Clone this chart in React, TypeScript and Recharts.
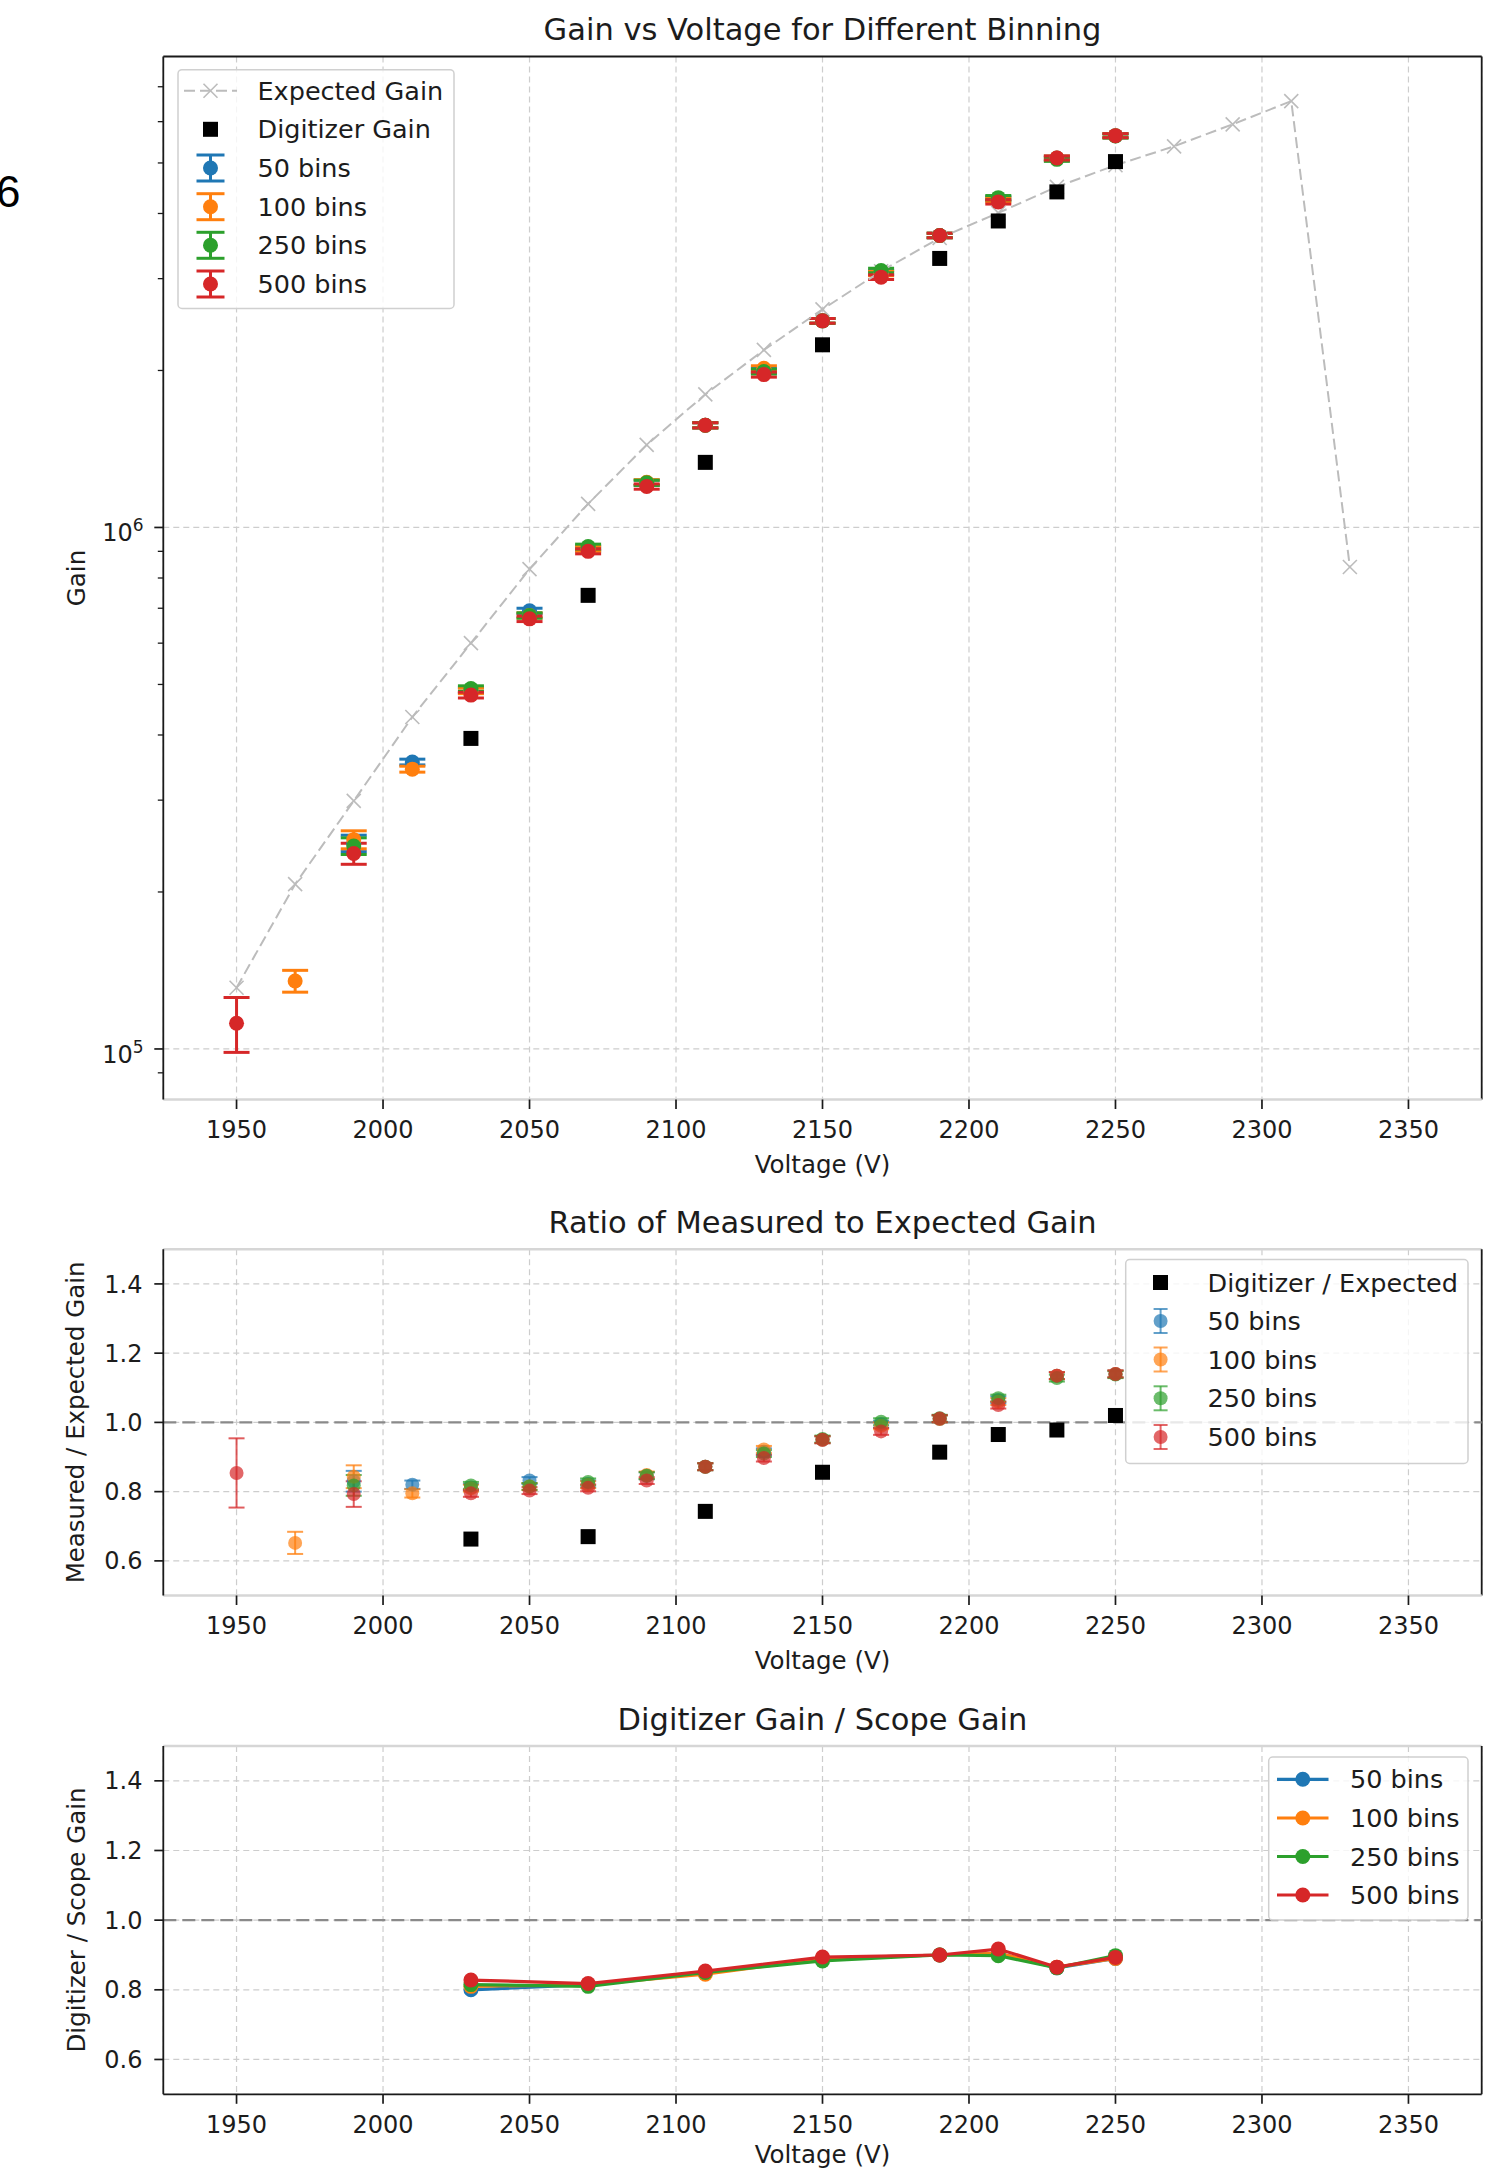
import React from 'react';
import { ComposedChart, Scatter, XAxis, YAxis, CartesianGrid, ReferenceLine, ErrorBar } from 'recharts';

// ---------------- data ----------------
const X_TICKS = [1950, 2000, 2050, 2100, 2150, 2200, 2250, 2300, 2350];
const X_DOMAIN: [number, number] = [1925, 2375];

const EXPECTED_VOLTS = [1950, 1970, 1990, 2010, 2030, 2050, 2070, 2090, 2110, 2130, 2150, 2170, 2190, 2210, 2230, 2250, 2270, 2290, 2310, 2330];
const EXPECTED_GAIN = [1.31e5, 2.07e5, 2.99e5, 4.33e5, 6.0e5, 8.32e5, 1.11e6, 1.44e6, 1.8e6, 2.19e6, 2.62e6, 3.1e6, 3.59e6, 4.01e6, 4.5e6, 4.95e6, 5.38e6, 5.93e6, 6.57e6, 8.4e5];

const DIGI_VOLTS = [2030, 2070, 2110, 2150, 2190, 2210, 2230, 2250];
const DIGI_GAIN = [3.94e5, 7.41e5, 1.333e6, 2.24e6, 3.28e6, 3.87e6, 4.4e6, 5.03e6];
const DIGI_RATIO = [0.663, 0.67, 0.743, 0.856, 0.914, 0.965, 0.978, 1.02];

const B50_VOLTS = [1990, 2010, 2030, 2050, 2070, 2090, 2110, 2130, 2150, 2170, 2190, 2210, 2230, 2250];
const B50_GAIN = [2.48e5, 3.55e5, 4.87e5, 6.92e5, 9.12e5, 1.218e6, 1.57e6, 2.0e6, 2.49e6, 3.08e6, 3.63e6, 4.27e6, 5.11e6, 5.64e6];
const B50_GAIN_ERR = [9e3, 4.5e3, 6e3, 8e3, 1.0e4, 1.4e4, 1.8e4, 2.2e4, 2.6e4, 3.1e4, 3.6e4, 4.0e4, 4.5e4, 5.0e4];
const B50_RATIO = [0.83, 0.82, 0.812, 0.832, 0.822, 0.846, 0.872, 0.915, 0.95, 0.995, 1.01, 1.065, 1.135, 1.14];
const B50_RATIO_ERR = [0.03, 0.012, 0.01, 0.01, 0.01, 0.01, 0.01, 0.01, 0.01, 0.01, 0.01, 0.01, 0.01, 0.01];

const B100_VOLTS = [1970, 1990, 2010, 2030, 2050, 2070, 2090, 2110, 2130, 2150, 2170, 2190, 2210, 2230, 2250];
const B100_GAIN = [1.35e5, 2.52e5, 3.44e5, 4.86e5, 6.78e5, 9.1e5, 1.221e6, 1.57e6, 2.02e6, 2.49e6, 3.07e6, 3.63e6, 4.25e6, 5.11e6, 5.64e6];
const B100_GAIN_ERR = [6.5e3, 1.0e4, 4.5e3, 6e3, 8e3, 1.0e4, 1.4e4, 1.8e4, 2.2e4, 2.6e4, 3.1e4, 3.6e4, 4.0e4, 4.5e4, 5.0e4];
const B100_RATIO = [0.652, 0.843, 0.795, 0.81, 0.815, 0.82, 0.848, 0.872, 0.922, 0.95, 0.99, 1.01, 1.06, 1.135, 1.14];
const B100_RATIO_ERR = [0.032, 0.033, 0.012, 0.01, 0.01, 0.01, 0.01, 0.01, 0.01, 0.01, 0.01, 0.01, 0.01, 0.01, 0.01];

const B250_VOLTS = [1990, 2030, 2050, 2070, 2090, 2110, 2130, 2150, 2170, 2190, 2210, 2230, 2250];
const B250_GAIN = [2.45e5, 4.91e5, 6.78e5, 9.19e5, 1.218e6, 1.57e6, 1.99e6, 2.49e6, 3.11e6, 3.63e6, 4.29e6, 5.08e6, 5.63e6];
const B250_GAIN_ERR = [9e3, 6e3, 8e3, 1.0e4, 1.4e4, 1.8e4, 2.2e4, 2.6e4, 3.1e4, 3.6e4, 4.0e4, 4.5e4, 5.0e4];
const B250_RATIO = [0.818, 0.818, 0.815, 0.828, 0.846, 0.872, 0.91, 0.952, 1.002, 1.012, 1.07, 1.128, 1.138];
const B250_RATIO_ERR = [0.03, 0.01, 0.01, 0.01, 0.01, 0.01, 0.01, 0.01, 0.01, 0.01, 0.01, 0.01, 0.01];

const B500_VOLTS = [1950, 1990, 2030, 2050, 2070, 2090, 2110, 2130, 2150, 2170, 2190, 2210, 2230, 2250];
const B500_GAIN = [1.12e5, 2.37e5, 4.77e5, 6.68e5, 9.0e5, 1.198e6, 1.57e6, 1.964e6, 2.49e6, 3.02e6, 3.63e6, 4.21e6, 5.11e6, 5.64e6];
const B500_GAIN_ERR = [1.35e4, 1.1e4, 6e3, 8e3, 1.0e4, 1.4e4, 1.8e4, 2.2e4, 2.6e4, 3.1e4, 3.6e4, 4.0e4, 4.5e4, 5.0e4];
const B500_RATIO = [0.854, 0.793, 0.795, 0.803, 0.811, 0.832, 0.872, 0.897, 0.95, 0.974, 1.011, 1.05, 1.135, 1.14];
const B500_RATIO_ERR = [0.1, 0.037, 0.01, 0.01, 0.01, 0.01, 0.01, 0.01, 0.01, 0.01, 0.01, 0.01, 0.01, 0.01];

const SCOPE_50 = [0.8, 0.815, 0.848, 0.89, 0.9, 0.905, 0.863, 0.89];
const SCOPE_100 = [0.81, 0.815, 0.845, 0.89, 0.9, 0.905, 0.865, 0.89];
const SCOPE_250 = [0.815, 0.81, 0.85, 0.883, 0.9, 0.898, 0.863, 0.898];
const SCOPE_500 = [0.828, 0.818, 0.854, 0.894, 0.9, 0.917, 0.865, 0.893];

const LOG_MAJOR = [1e5, 1e6];
const LOG_TICKS = [9e4, 1e5, 2e5, 3e5, 4e5, 5e5, 6e5, 7e5, 8e5, 9e5, 1e6, 2e6, 3e6, 4e6, 5e6, 6e6, 7e6];
const LOG_DOMAIN: [number, number] = [8e4, 8e6];
const RATIO_TICKS = [0.6, 0.8, 1.0, 1.2, 1.4];
const RATIO_DOMAIN: [number, number] = [0.5, 1.5];

const TITLES = ['Gain vs Voltage for Different Binning', 'Ratio of Measured to Expected Gain', 'Digitizer Gain / Scope Gain'];
const Y_LABELS = ['Gain', 'Measured / Expected Gain', 'Digitizer / Scope Gain'];
const X_LABEL = 'Voltage (V)';
const BIN_NAMES = ['50 bins', '100 bins', '250 bins', '500 bins'];

// ---------------- style ----------------
const W = 1487;
const H = 2169;
const PLOT_LEFT = 163.3;
const PLOT_RIGHT = 1481.7;
const FONT = '"DejaVu Sans", Verdana, sans-serif';
const TXT = '#1c1c1c';
const SPINE = '#1a1a1a';
const SPINE_LIGHT = '#d6d6d6';
const GRID = '#cdcdcd';
const COLORS = ['#1f77b4', '#ff7f0e', '#2ca02c', '#d62728'];
const EXP_COLOR = '#bcbcbc';

const zip = (vs: number[], ys: number[], es?: number[]) => vs.map((v, i) => ({ v, y: ys[i], e: es ? es[i] : 0 }));

const expectedData = zip(EXPECTED_VOLTS, EXPECTED_GAIN);
const digiGainData = zip(DIGI_VOLTS, DIGI_GAIN);
const digiRatioData = zip(DIGI_VOLTS, DIGI_RATIO);
const gainSeries = [
  zip(B50_VOLTS, B50_GAIN, B50_GAIN_ERR),
  zip(B100_VOLTS, B100_GAIN, B100_GAIN_ERR),
  zip(B250_VOLTS, B250_GAIN, B250_GAIN_ERR),
  zip(B500_VOLTS, B500_GAIN, B500_GAIN_ERR),
];
const ratioSeries = [
  zip(B50_VOLTS, B50_RATIO, B50_RATIO_ERR),
  zip(B100_VOLTS, B100_RATIO, B100_RATIO_ERR),
  zip(B250_VOLTS, B250_RATIO, B250_RATIO_ERR),
  zip(B500_VOLTS, B500_RATIO, B500_RATIO_ERR),
];
const scopeSeries = [SCOPE_50, SCOPE_100, SCOPE_250, SCOPE_500].map((s) => zip(DIGI_VOLTS, s));

// ---------------- ticks ----------------
const XTick = (p: any) => (
  <g>
    <line x1={p.x} x2={p.x} y1={p.y} y2={p.y + 9.5} stroke={SPINE} strokeWidth={1.7} />
    <text x={p.x} y={p.y + 38.5} textAnchor="middle" fontSize={24} fontFamily={FONT} fill={TXT}>
      {p.payload.value}
    </text>
  </g>
);

const RatioTick = (p: any) => (
  <g>
    <line x1={p.x - 9} x2={p.x} y1={p.y} y2={p.y} stroke={SPINE} strokeWidth={1.7} />
    <text x={p.x - 20.8} y={p.y + 8.6} textAnchor="end" fontSize={24} fontFamily={FONT} fill={TXT}>
      {Number(p.payload.value).toFixed(1)}
    </text>
  </g>
);

const LogTick = (p: any) => {
  const v = p.payload.value;
  const major = LOG_MAJOR.some((m) => Math.abs(m - v) / m < 1e-6);
  const exp = Math.round(Math.log10(v));
  return (
    <g>
      <line x1={p.x - (major ? 9 : 5.5)} x2={p.x} y1={p.y} y2={p.y} stroke={SPINE} strokeWidth={major ? 1.7 : 1.3} />
      {major && (
        <text x={p.x - 19.8} y={p.y + 14} textAnchor="end" fontSize={24} fontFamily={FONT} fill={TXT}>
          <tspan>10</tspan>
          <tspan fontSize={17} dy={-10}>{exp}</tspan>
        </text>
      )}
    </g>
  );
};

// ---------------- shapes ----------------
const circle = (color: string, r: number, op = 1) => (p: any) =>
  p.cx == null ? <g /> : <circle cx={p.cx} cy={p.cy} r={r} fill={color} fillOpacity={op} />;
const square = (side: number) => (p: any) =>
  p.cx == null ? <g /> : <rect x={p.cx - side / 2} y={p.cy - side / 2} width={side} height={side} fill="#000" />;
const xMark = (p: any) =>
  p.cx == null ? (
    <g />
  ) : (
    <g stroke={EXP_COLOR} strokeWidth={1.6}>
      <line x1={p.cx - 7} y1={p.cy - 7} x2={p.cx + 7} y2={p.cy + 7} />
      <line x1={p.cx - 7} y1={p.cy + 7} x2={p.cx + 7} y2={p.cy - 7} />
    </g>
  );

// ---------------- charts ----------------
const commonX = (spineColor: string, h: number) => (
  <XAxis
    dataKey="v"
    type="number"
    domain={X_DOMAIN}
    ticks={X_TICKS}
    interval={0}
    allowDataOverflow
    height={h}
    tickSize={0}
    tickMargin={0}
    tickLine={false}
    axisLine={{ stroke: spineColor, strokeWidth: spineColor === SPINE ? 1.8 : 2.5 }}
    tick={XTick}
  />
);

const ratioY = (
  <YAxis
    dataKey="y"
    type="number"
    domain={RATIO_DOMAIN}
    ticks={RATIO_TICKS}
    interval={0}
    allowDataOverflow
    width={PLOT_LEFT}
    tickSize={0}
    tickMargin={0}
    tickLine={false}
    axisLine={{ stroke: SPINE, strokeWidth: 1.8 }}
    tick={RatioTick}
  />
);

function GainChart() {
  // plot area: top 56.5, bottom 1099.5
  return (
    <ComposedChart width={W} height={1190} margin={{ top: 56.5, right: W - PLOT_RIGHT, bottom: 10.5, left: 0 }}>
      <CartesianGrid horizontal={false} stroke={GRID} strokeDasharray="6 4" strokeWidth={1.2} />
      {commonX(SPINE_LIGHT, 80)}
      <YAxis
        dataKey="y"
        type="number"
        scale="log"
        domain={LOG_DOMAIN}
        ticks={LOG_TICKS}
        interval={0}
        allowDataOverflow
        width={PLOT_LEFT}
        tickSize={0}
        tickMargin={0}
        tickLine={false}
        axisLine={{ stroke: SPINE, strokeWidth: 1.8 }}
        tick={LogTick}
      />
      {LOG_MAJOR.map((t) => (
        <ReferenceLine key={t} y={t} stroke={GRID} strokeDasharray="6 4" strokeWidth={1.2} />
      ))}
      <ReferenceLine y={LOG_DOMAIN[1]} stroke={SPINE} strokeWidth={1.8} />
      <ReferenceLine x={X_DOMAIN[1]} stroke={SPINE} strokeWidth={1.8} />
      <Scatter
        data={expectedData}
        dataKey="y"
        shape={xMark}
        line={{ stroke: EXP_COLOR, strokeWidth: 2, strokeDasharray: '11 5' }}
        lineType="joint"
        isAnimationActive={false}
      />
      <Scatter data={digiGainData} dataKey="y" shape={square(15)} isAnimationActive={false} />
      {gainSeries.map((d, i) => (
        <Scatter key={i} data={d} dataKey="y" shape={circle(COLORS[i], 7.5)} isAnimationActive={false}>
          <ErrorBar dataKey="e" direction="y" width={13} stroke={COLORS[i]} strokeWidth={3} isAnimationActive={false} />
        </Scatter>
      ))}
    </ComposedChart>
  );
}

function RatioChart() {
  // placed at top 1190; plot area: top 1249.3, bottom 1595.5
  return (
    <ComposedChart width={W} height={490} margin={{ top: 59.3, right: W - PLOT_RIGHT, bottom: 4.5, left: 0 }}>
      <CartesianGrid stroke={GRID} strokeDasharray="6 4" strokeWidth={1.2} />
      {commonX(SPINE_LIGHT, 80)}
      {ratioY}
      <ReferenceLine y={RATIO_DOMAIN[1]} stroke={SPINE_LIGHT} strokeWidth={2.5} />
      <ReferenceLine x={X_DOMAIN[1]} stroke={SPINE} strokeWidth={1.8} />
      <ReferenceLine y={1} stroke="#8a8a8a" strokeDasharray="13 6" strokeWidth={2.4} />
      <Scatter data={digiRatioData} dataKey="y" shape={square(15)} isAnimationActive={false} />
      {ratioSeries.map((d, i) => (
        <Scatter key={i} data={d} dataKey="y" shape={circle(COLORS[i], 7, 0.7)} isAnimationActive={false}>
          <ErrorBar dataKey="e" direction="y" width={8} stroke={COLORS[i]} strokeOpacity={0.75} strokeWidth={2} isAnimationActive={false} />
        </Scatter>
      ))}
    </ComposedChart>
  );
}

function ScopeChart() {
  // placed at top 1680; plot area: top 1746, bottom 2094.3
  return (
    <ComposedChart width={W} height={489} margin={{ top: 66, right: W - PLOT_RIGHT, bottom: 4.7, left: 0 }}>
      <CartesianGrid stroke={GRID} strokeDasharray="6 4" strokeWidth={1.2} />
      {commonX(SPINE, 70)}
      {ratioY}
      <ReferenceLine y={RATIO_DOMAIN[1]} stroke={SPINE_LIGHT} strokeWidth={2.5} />
      <ReferenceLine x={X_DOMAIN[1]} stroke={SPINE} strokeWidth={1.8} />
      <ReferenceLine y={1} stroke="#8a8a8a" strokeDasharray="13 6" strokeWidth={2.4} />
      {scopeSeries.map((d, i) => (
        <Scatter
          key={i}
          data={d}
          dataKey="y"
          shape={circle(COLORS[i], 7.5)}
          line={{ stroke: COLORS[i], strokeWidth: 3.2 }}
          lineType="joint"
          isAnimationActive={false}
        />
      ))}
    </ComposedChart>
  );
}

// ---------------- overlay (titles, labels, legends) ----------------
const PLOT_CX = (PLOT_LEFT + PLOT_RIGHT) / 2;

function ErrSymbol({ cx, cy, color, half, cap, sw, r, op = 1 }: any) {
  return (
    <g stroke={color} strokeWidth={sw} strokeOpacity={op}>
      <line x1={cx} x2={cx} y1={cy - half} y2={cy + half} />
      <line x1={cx - cap} x2={cx + cap} y1={cy - half} y2={cy - half} />
      <line x1={cx - cap} x2={cx + cap} y1={cy + half} y2={cy + half} />
      <circle cx={cx} cy={cy} r={r} fill={color} fillOpacity={op} stroke="none" />
    </g>
  );
}

function LegendText({ x, y, children }: any) {
  return (
    <text x={x} y={y + 9} fontSize={25.5} fontFamily={FONT} fill={TXT}>
      {children}
    </text>
  );
}

function Overlay() {
  const topRows = [90.7, 129.3, 168, 206.7, 245.3, 284];
  const midRows = [1282.5, 1321, 1359.5, 1398.3, 1437];
  const botRows = [1779.3, 1818, 1856.5, 1895];
  const titleY = [40, 1232.7, 1730];
  const yLabelCY = [578, 1422.4, 1920];
  const xLabelY = [1172.5, 1668.5, 2163];
  return (
    <svg width={W} height={H} style={{ position: 'absolute', left: 0, top: 0, pointerEvents: 'none' }}>
      <text x={-4} y={207} fontSize={44} fontFamily='"Liberation Sans", Arial, sans-serif' fill="#000">6</text>
      {TITLES.map((t, i) => (
        <text key={t} x={PLOT_CX} y={titleY[i]} textAnchor="middle" fontSize={30.5} fontFamily={FONT} fill={TXT}>
          {t}
        </text>
      ))}
      {Y_LABELS.map((t, i) => (
        <text
          key={t}
          x={84.5}
          y={yLabelCY[i]}
          textAnchor="middle"
          fontSize={24.5}
          fontFamily={FONT}
          fill={TXT}
          transform={`rotate(-90, 84.5, ${yLabelCY[i]})`}
        >
          {t}
        </text>
      ))}
      {xLabelY.map((y, i) => (
        <text key={i} x={PLOT_CX} y={y} textAnchor="middle" fontSize={24.5} fontFamily={FONT} fill={TXT}>
          {X_LABEL}
        </text>
      ))}

      {/* top legend */}
      <rect x={178} y={69.7} width={276} height={238.8} rx={4} fill="#fff" fillOpacity={0.8} stroke="#d0d0d0" strokeWidth={1.5} />
      <line x1={184} x2={237} y1={topRows[0]} y2={topRows[0]} stroke={EXP_COLOR} strokeWidth={2} strokeDasharray="11 5" />
      <g stroke={EXP_COLOR} strokeWidth={1.6}>
        <line x1={203.5} y1={topRows[0] - 7} x2={217.5} y2={topRows[0] + 7} />
        <line x1={203.5} y1={topRows[0] + 7} x2={217.5} y2={topRows[0] - 7} />
      </g>
      <LegendText x={257.5} y={topRows[0]}>Expected Gain</LegendText>
      <rect x={203} y={topRows[1] - 7.5} width={15} height={15} fill="#000" />
      <LegendText x={257.5} y={topRows[1]}>Digitizer Gain</LegendText>
      {BIN_NAMES.map((n, i) => (
        <g key={n}>
          <ErrSymbol cx={210.5} cy={topRows[i + 2]} color={COLORS[i]} half={13} cap={14} sw={3} r={7.5} />
          <LegendText x={257.5} y={topRows[i + 2]}>{n}</LegendText>
        </g>
      ))}

      {/* middle legend */}
      <rect x={1125.7} y={1259.5} width={342.3} height={204} rx={4} fill="#fff" fillOpacity={0.8} stroke="#d0d0d0" strokeWidth={1.5} />
      <rect x={1153} y={midRows[0] - 7.5} width={15} height={15} fill="#000" />
      <LegendText x={1207.6} y={midRows[0]}>Digitizer / Expected</LegendText>
      {BIN_NAMES.map((n, i) => (
        <g key={n}>
          <ErrSymbol cx={1160.6} cy={midRows[i + 1]} color={COLORS[i]} half={12} cap={7} sw={2} r={7} op={0.7} />
          <LegendText x={1207.6} y={midRows[i + 1]}>{n}</LegendText>
        </g>
      ))}

      {/* bottom legend */}
      <rect x={1268.7} y={1757} width={199.3} height={163} rx={4} fill="#fff" fillOpacity={0.8} stroke="#d0d0d0" strokeWidth={1.5} />
      {BIN_NAMES.map((n, i) => (
        <g key={n}>
          <line x1={1277} x2={1328.5} y1={botRows[i]} y2={botRows[i]} stroke={COLORS[i]} strokeWidth={3.2} />
          <circle cx={1302.8} cy={botRows[i]} r={7.5} fill={COLORS[i]} />
          <LegendText x={1350} y={botRows[i]}>{n}</LegendText>
        </g>
      ))}
    </svg>
  );
}

export default function App() {
  return (
    <div style={{ position: 'absolute', left: 0, top: 0, width: W, height: H, background: '#fff', overflow: 'hidden' }}>
      <div style={{ position: 'absolute', left: 0, top: 0 }}>
        <GainChart />
      </div>
      <div style={{ position: 'absolute', left: 0, top: 1190 }}>
        <RatioChart />
      </div>
      <div style={{ position: 'absolute', left: 0, top: 1680 }}>
        <ScopeChart />
      </div>
      <Overlay />
    </div>
  );
}
